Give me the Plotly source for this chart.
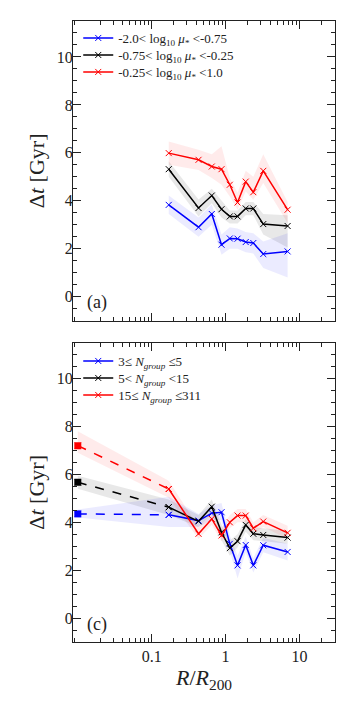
import plotly.graph_objects as go

# bin centres in R/R200
r_bins = [0.17, 0.43, 0.65, 0.88, 1.14, 1.45, 1.87, 2.37, 3.23, 6.9]
# central (innermost) point for panel (c)
r_centre = 0.01

# panel (a): stellar mass ratio bins
mu_names = ["-2.0< log<sub>10</sub> <i>μ</i><sub>*</sub> <-0.75",
            "-0.75< log<sub>10</sub> <i>μ</i><sub>*</sub> <-0.25",
            "-0.25< log<sub>10</sub> <i>μ</i><sub>*</sub> <1.0"]
mu_lo = [3.83, 2.90, 3.45, 2.17, 2.43, 2.42, 2.28, 2.24, 1.78, 1.89]
mu_lo_up = [4.22, 3.30, 3.85, 2.60, 2.90, 2.85, 2.70, 2.65, 2.30, 2.65]
mu_lo_dn = [3.45, 2.50, 3.00, 1.75, 2.00, 2.00, 1.85, 1.80, 1.20, 0.80]
mu_mid = [5.32, 3.70, 4.22, 3.65, 3.35, 3.35, 3.68, 3.68, 3.03, 2.95]
mu_mid_up = [5.65, 4.05, 4.50, 4.00, 3.60, 3.60, 3.95, 3.95, 3.45, 3.40]
mu_mid_dn = [5.00, 3.35, 3.90, 3.30, 3.05, 3.05, 3.40, 3.40, 2.60, 2.05]
mu_hi = [5.99, 5.71, 5.43, 5.32, 4.67, 3.93, 4.80, 4.36, 5.25, 3.63]
mu_hi_up = [6.47, 6.13, 5.94, 6.28, 4.95, 4.34, 5.25, 5.00, 5.94, 3.95]
mu_hi_dn = [5.50, 5.29, 4.95, 4.67, 4.18, 3.63, 4.39, 4.04, 4.74, 3.07]

# panel (c): group richness bins, first value is the central galaxy point
n_names = ["3≤ <i>N</i><sub><i>group</i></sub> ≤5",
           "5< <i>N</i><sub><i>group</i></sub> <15",
           "15≤ <i>N</i><sub><i>group</i></sub> ≤311"]
n_lo = [4.35, 4.31, 4.07, 4.38, 4.42, 3.10, 2.20, 3.05, 2.20, 3.04, 2.76]
n_lo_up = [4.53, 5.07, 4.35, 4.70, 4.80, 3.45, 2.60, 3.40, 2.50, 3.35, 3.10]
n_lo_dn = [4.20, 3.80, 3.80, 4.10, 4.10, 2.80, 1.65, 2.75, 1.90, 2.75, 2.40]
n_mid = [5.67, 4.63, 4.04, 4.65, 3.58, 2.92, 3.21, 3.89, 3.52, 3.47, 3.36]
n_mid_up = [5.94, 4.95, 4.30, 4.95, 3.90, 3.25, 3.50, 4.15, 3.80, 3.75, 3.65]
n_mid_dn = [5.40, 4.30, 3.80, 4.35, 3.25, 2.60, 2.95, 3.60, 3.25, 3.20, 3.10]
n_hi = [7.20, 5.39, 3.52, 4.14, 3.45, 4.00, 4.28, 4.28, 3.75, 4.03, 3.56]
n_hi_up = [7.80, 5.73, 3.80, 4.40, 3.75, 4.30, 4.55, 4.55, 4.00, 4.30, 3.85]
n_hi_dn = [6.90, 5.02, 3.30, 3.90, 3.20, 3.75, 4.00, 4.00, 3.50, 3.80, 3.30]

colors = ["#0000ff", "#000000", "#ff0000"]
bands = ["rgba(0,0,255,0.08)", "rgba(0,0,0,0.09)", "rgba(255,0,0,0.08)"]
FONT = "Liberation Serif"

fig = go.Figure()


def add_band(x, up, dn, fill, ax):
    fig.add_trace(go.Scatter(x=x + x[::-1], y=up + dn[::-1], fill="toself",
                             fillcolor=fill, line=dict(width=0), mode="lines",
                             hoverinfo="skip", showlegend=False,
                             xaxis=ax[0], yaxis=ax[1]))


def add_line(x, y, c, name, ax, legend, dash="solid", show=True):
    fig.add_trace(go.Scatter(x=x, y=y, mode="lines+markers", name=name,
                             line=dict(color=c, width=1.5, dash=dash),
                             marker=dict(symbol="x-thin", size=6,
                                         line=dict(color=c, width=1)),
                             showlegend=show, legend=legend,
                             xaxis=ax[0], yaxis=ax[1]))


# panel (a)
top = ("x", "y")
for up, dn, f in zip([mu_lo_up, mu_mid_up, mu_hi_up],
                     [mu_lo_dn, mu_mid_dn, mu_hi_dn], bands):
    add_band(r_bins, up, dn, f, top)
for i, (y, c, nm) in enumerate(zip([mu_lo, mu_mid, mu_hi], colors, mu_names)):
    add_line(r_bins, y, c, nm, top, "legend" if i == 0 else "legend%d" % (i + 1))

# panel (c)
bot = ("x2", "y2")
r_all = [r_centre] + r_bins
for up, dn, f in zip([n_lo_up, n_mid_up, n_hi_up],
                     [n_lo_dn, n_mid_dn, n_hi_dn], bands):
    add_band(r_all, up, dn, f, bot)
for i, (y, c, nm) in enumerate(zip([n_lo, n_mid, n_hi], colors, n_names)):
    add_line(r_all[:2], y[:2], c, nm, bot, "legend", dash="dash", show=False)
    fig.add_trace(go.Scatter(x=[r_centre], y=[y[0]], mode="markers",
                             marker=dict(symbol="square", size=7, color=c),
                             showlegend=False, xaxis="x2", yaxis="y2"))
    add_line(r_bins, y[1:], c, nm, bot, "legend%d" % (i + 4))

minor_vals = [m * 10 ** e for e in range(-3, 2) for m in range(2, 10)]
xcommon = dict(type="log", range=[-2.065, 1.48], showline=True, linecolor="#222",
               linewidth=1, mirror="allticks", ticks="inside", ticklen=8,
               tickcolor="#222", tickvals=[0.1, 1, 10], ticktext=["0.1", "1", "10"],
               minor=dict(tickvals=minor_vals, ticks="inside", ticklen=4,
                          tickcolor="#222", showgrid=False),
               showgrid=False, zeroline=False,
               tickfont=dict(family=FONT, size=16, color="#222"))
ycommon = dict(range=[-1, 11.5], showline=True, linecolor="#222", linewidth=1,
               mirror="allticks", ticks="inside", ticklen=8, tickcolor="#222",
               tickvals=[0, 2, 4, 6, 8, 10], ticklabelstandoff=-4,
               minor=dict(dtick=0.5, ticks="inside", ticklen=4, tickcolor="#222",
                          showgrid=False),
               showgrid=False, zeroline=False,
               tickfont=dict(family=FONT, size=16, color="#222"),
               title=dict(text="Δ<i>t</i> [Gyr]", standoff=6,
                          font=dict(family=FONT, size=22, color="#222")))

leg = dict(x=0.02, xanchor="left", yanchor="middle", bgcolor="rgba(0,0,0,0)",
           font=dict(family=FONT, size=13, color="#222"))
leg_y = [0.9726, 0.9452, 0.9179, 0.4525, 0.4251, 0.3977]

fig.update_layout(
    width=357, height=714,
    margin=dict(l=73, r=22, t=21, b=72),
    paper_bgcolor="white", plot_bgcolor="white",
    xaxis=dict(xcommon, anchor="y", showticklabels=False),
    yaxis=dict(ycommon, domain=[0.5174, 1.0], anchor="x"),
    xaxis2=dict(xcommon, anchor="y2",
                title=dict(text="<i>R</i>/<i>R</i><sub>200</sub>", standoff=2,
                           font=dict(family=FONT, size=22, color="#222"))),
    yaxis2=dict(ycommon, domain=[0.0, 0.482], anchor="x2"),
    annotations=[
        dict(text="(a)", xref="x domain", yref="y domain", x=0.045, y=0.06,
             xanchor="left", yanchor="middle", showarrow=False,
             font=dict(family=FONT, size=18, color="#222")),
        dict(text="(c)", xref="x2 domain", yref="y2 domain", x=0.045, y=0.06,
             xanchor="left", yanchor="middle", showarrow=False,
             font=dict(family=FONT, size=18, color="#222")),
    ],
)
for i, yy in enumerate(leg_y):
    key = "legend" if i == 0 else "legend%d" % (i + 1)
    fig.update_layout({key: dict(leg, y=yy)})

fig.write_html("out.html", config={"displayModeBar": False},
               post_script="document.body.style.margin='0px';")
